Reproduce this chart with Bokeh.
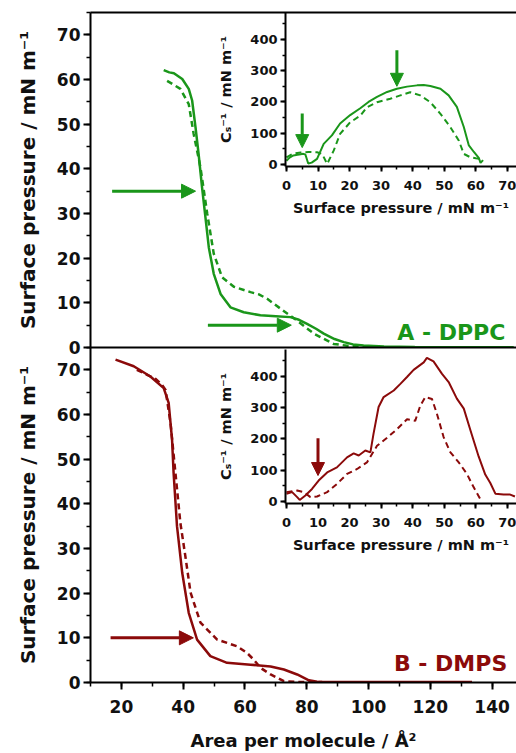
from bokeh.plotting import figure
from bokeh.layouts import row, column
from bokeh.models import (Range1d, SingleIntervalTicker, FixedTicker, LinearAxis, Arrow,
                          NormalHead, Label)
from bokeh.embed import file_html
from bokeh.resources import INLINE

# ---------------- data ----------------
# Panel A - DPPC isotherms (area per molecule / A^2, surface pressure / mN m-1)
dppc_solid_area = [33.7, 35.5, 37.0, 39.7, 41.8, 42.9, 44.0, 45.0, 46.1, 47.2, 48.3, 49.9, 52.1, 55.3,
                   59.6, 65.0, 70.0, 74.7, 77.5, 80.1, 83.0, 85.5, 89.0, 92.0, 95.0, 98.4, 105, 115,
                   125, 135, 147]
dppc_solid_pi = [62.1, 61.6, 61.4, 60.1, 57.9, 55.3, 49.3, 43.3, 35.9, 29.2, 22.4, 16.5, 12.0, 9.0,
                 7.9, 7.2, 7.0, 6.8, 6.2, 5.3, 4.2, 3.1, 1.9, 1.2, 0.7, 0.45, 0.2, 0.1, 0.05, 0.05, 0.05]
dppc_dash_area = [34.8, 37.0, 39.1, 41.8, 43.4, 45.6, 47.8, 49.9, 52.6, 56.4, 61.8, 64.5, 67.2, 71.5,
                  76.9, 82.3, 88.7, 93.1, 100, 110]
dppc_dash_pi = [59.7, 58.8, 57.9, 54.5, 47.8, 40.3, 29.9, 21.0, 15.7, 13.6, 12.4, 11.9, 10.9, 8.7,
                6.0, 3.1, 0.8, 0.4, 0.1, 0.05]

# Panel B - DMPS isotherms
dmps_solid_area = [18.1, 24.0, 29.4, 33.7, 35.3, 36.4, 36.9, 38.0, 39.7, 41.8, 44.5, 48.8, 54.2, 61.8,
                   68.3, 72.6, 76.9, 80.7, 83.4, 90, 100, 110, 120, 133.5]
dmps_solid_pi = [72.3, 70.8, 68.5, 65.9, 62.6, 54.4, 46.9, 35.0, 24.5, 15.6, 9.6, 5.9, 4.4, 4.0,
                 3.6, 2.9, 1.8, 0.5, 0.15, 0.1, 0.1, 0.1, 0.1, 0.1]
dmps_dash_area = [25.0, 28.0, 31.0, 33.0, 34.3, 35.9, 37.5, 39.1, 40.7, 42.4, 45.6, 51.0, 57.5, 60.7,
                  63.0, 65.0, 68.3, 72.6, 78, 85]
dmps_dash_pi = [70.0, 69.0, 68.0, 66.8, 65.5, 58.1, 46.9, 35.7, 28.3, 20.1, 13.4, 9.6, 8.1, 6.6,
                5.0, 3.3, 1.8, 0.3, 0.1, 0.1]

# Insets - compression modulus Cs^-1 vs surface pressure
dppc_cs_solid_pi = [0, 1.0, 2.2, 3.5, 4.5, 5.3, 6.0, 6.9, 8.0, 9.7, 11.8, 14.4, 17.0, 20.2, 23.4, 26.0,
                    28.7, 31.9, 35.0, 38.2, 41.4, 43.5, 45.6, 48.8, 51.4, 54.0, 56.2, 57.8, 59.4, 61.0,
                    61.5, 62.3]
dppc_cs_solid = [12, 22, 29, 31, 33, 34, 32, 3, 6, 18, 66, 93, 131, 158, 180, 200, 216, 232, 242, 249,
                 253, 254, 251, 242, 221, 184, 120, 61, 40, 20, 5, 14]
dppc_cs_dash_pi = [0, 2.2, 4.5, 7.0, 9.7, 11.3, 12.9, 15.0, 17.0, 20.2, 23.4, 25.5, 28.7, 32.9, 36.1,
                   39.2, 42.4, 45.6, 48.8, 51.9, 54.6, 56.2, 58.3, 60.0, 61.5]
dppc_cs_dash = [23, 35, 38, 40, 39, 34, 2, 45, 98, 135, 156, 183, 199, 210, 221, 231, 221, 199, 162,
                120, 77, 34, 23, 20, 18]

dmps_cs_solid_pi = [0, 1.8, 3.4, 4.2, 6.0, 8.1, 10.2, 12.9, 16.0, 19.2, 21.3, 22.9, 25.0, 26.6, 27.6,
                    29.2, 30.8, 34.0, 36.1, 38.2, 40.3, 43.5, 44.5, 46.6, 49.3, 51.4, 54.0, 56.2, 58.3,
                    60.9, 63.0, 64.6, 66.2, 68.8, 70.9, 72.4]
dmps_cs_solid = [25, 30, 14, 5, 19, 40, 67, 93, 109, 141, 154, 147, 163, 157, 217, 302, 334, 355, 376,
                 398, 421, 445, 459, 448, 408, 382, 329, 297, 228, 144, 86, 59, 25, 22, 22, 16]
dmps_cs_dash_pi = [0, 3.4, 5.5, 7.6, 9.7, 12.9, 16.0, 19.2, 22.4, 25.5, 28.7, 31.9, 35.0, 38.2, 40.8,
                   42.4, 44.0, 46.1, 47.7, 49.8, 51.9, 54.6, 57.2, 59.3, 61.4]
dmps_cs_dash = [30, 35, 30, 14, 16, 30, 56, 88, 104, 125, 178, 204, 231, 263, 258, 306, 334, 328, 280,
                206, 158, 125, 88, 46, 8]

# arrows: (x_start, y_start, x_end, y_end)
arrows_A_main = [(17.0, 35.0, 44.0, 35.0), (48.0, 5.0, 75.0, 5.0)]
arrows_B_main = [(16.5, 10.0, 43.3, 10.0)]
arrows_A_inset = [(5.0, 163.0, 5.0, 54.0), (35.0, 365.0, 35.0, 250.0)]
arrows_B_inset = [(10.0, 202.0, 10.0, 83.0)]

GREEN = "#1a961a"
RED = "#8b0a0a"
FONT = "DejaVu Sans"
Y_LABEL = "Surface pressure / mN m\u207b\u00b9"
X_LABEL = "Area per molecule / \u00c5\u00b2"
INSET_X_LABEL = "Surface pressure / mN m\u207b\u00b9"
INSET_Y_LABEL = "C\u209b\u207b\u00b9 / mN m\u207b\u00b9"

OVERLAP = 14  # px of panel A's lower border that panel B's transparent border overlays


def style_axis(ax, tick_size, label_size, standoff, label_standoff, major_out, minor_out):
    ax.axis_line_width = 2
    ax.major_tick_line_width = 2
    ax.minor_tick_line_width = 1.5
    ax.major_tick_in = 0
    ax.major_tick_out = major_out
    ax.minor_tick_in = 0
    ax.minor_tick_out = minor_out
    ax.major_label_text_font = FONT
    ax.major_label_text_font_style = "bold"
    ax.major_label_text_font_size = f"{tick_size}px"
    ax.major_label_text_color = "#111111"
    ax.major_label_standoff = standoff
    ax.axis_label_text_font = FONT
    ax.axis_label_text_font_style = "bold"
    ax.axis_label_text_font_size = f"{label_size}px"
    ax.axis_label_text_color = "#111111"
    ax.axis_label_standoff = label_standoff


def border_axis(p, place):
    ax = LinearAxis(ticker=FixedTicker(ticks=[]), axis_line_width=2, axis_line_color="black",
                    major_tick_line_color=None, minor_tick_line_color=None,
                    major_tick_out=0, minor_tick_out=0, major_tick_in=0, minor_tick_in=0,
                    major_label_standoff=0, axis_label_standoff=0)
    p.add_layout(ax, place)


def add_arrows(p, arrows, color, size, width):
    for xs, ys, xe, ye in arrows:
        p.add_layout(Arrow(end=NormalHead(size=size, fill_color=color, line_color=color),
                           x_start=xs, y_start=ys, x_end=xe, y_end=ye,
                           line_color=color, line_width=width))


def main_panel(height, top, bottom, show_x):
    p = figure(width=516, height=height, x_range=Range1d(10, 147.9), y_range=Range1d(0, 75),
               output_backend="svg", toolbar_location=None,
               x_axis_location="below" if show_x else None,
               min_border_left=90, min_border_right=0, min_border_top=top, min_border_bottom=bottom)
    p.frame_align = False
    p.grid.visible = False
    p.outline_line_color = None
    p.background_fill_color = "white"
    p.yaxis.ticker = SingleIntervalTicker(interval=10, num_minor_ticks=2)
    p.yaxis.axis_label = Y_LABEL
    style_axis(p.yaxis[0], 17, 20, 3, 14, 7, 4)
    if show_x:
        p.border_fill_alpha = 0
        p.xaxis.ticker = SingleIntervalTicker(interval=20, num_minor_ticks=2)
        p.xaxis.axis_label = X_LABEL
        style_axis(p.xaxis[0], 17, 18, 10, 14, 7, 4)
        border_axis(p, "above")
    else:
        p.border_fill_color = "white"
        border_axis(p, "above")
        border_axis(p, "below")
    return p


def inset_panel(top, margin_left):
    p = figure(width=301, height=210 + top, x_range=Range1d(-0.3, 72.9), y_range=Range1d(-6.4, 486),
               output_backend="svg", toolbar_location=None,
               min_border_left=70, min_border_right=0, min_border_top=top, min_border_bottom=56)
    p.frame_align = False
    p.grid.visible = False
    p.outline_line_color = None
    p.background_fill_alpha = 0
    p.border_fill_alpha = 0
    p.xaxis.ticker = SingleIntervalTicker(interval=10, num_minor_ticks=2)
    p.yaxis.ticker = SingleIntervalTicker(interval=100, num_minor_ticks=2)
    p.xaxis.axis_label = INSET_X_LABEL
    p.yaxis.axis_label = INSET_Y_LABEL
    style_axis(p.xaxis[0], 13, 14.5, 9, 7, 5, 3)
    style_axis(p.yaxis[0], 13, 14.5, 3, 13, 5, 3)
    p.margin = (0, 0, 0, margin_left)
    return p


# ---------------- panel A ----------------
pA = main_panel(347 + OVERLAP, 12, OVERLAP, False)
pA.line(dppc_dash_area, dppc_dash_pi, line_color=GREEN, line_width=2.5, line_dash="6 4")
pA.line(dppc_solid_area, dppc_solid_pi, line_color=GREEN, line_width=2.5)
add_arrows(pA, arrows_A_main, GREEN, 14, 3)
pA.add_layout(Label(x=144.3, y=3.4, text="A - DPPC", text_align="right", text_baseline="alphabetic",
                    text_font=FONT, text_font_style="bold", text_font_size="22px", text_color=GREEN))

iA = inset_panel(12, -301)
iA.line(dppc_cs_dash_pi, dppc_cs_dash, line_color=GREEN, line_width=2, line_dash="6 4")
iA.line(dppc_cs_solid_pi, dppc_cs_solid, line_color=GREEN, line_width=2)
add_arrows(iA, arrows_A_inset, GREEN, 13, 3)

# ---------------- panel B ----------------
pB = main_panel(406, 0, 70, True)
pB.line(dmps_dash_area, dmps_dash_pi, line_color=RED, line_width=2.5, line_dash="6 4")
pB.line(dmps_solid_area, dmps_solid_pi, line_color=RED, line_width=2.5)
add_arrows(pB, arrows_B_main, RED, 14, 3)
pB.add_layout(Label(x=144.9, y=4.25, text="B - DMPS", text_align="right", text_baseline="alphabetic",
                    text_font=FONT, text_font_style="bold", text_font_size="22px", text_color=RED))

iB = inset_panel(2, -301)
iB.line(dmps_cs_dash_pi, dmps_cs_dash, line_color=RED, line_width=2, line_dash="6 4")
iB.line(dmps_cs_solid_pi, dmps_cs_solid, line_color=RED, line_width=2)
add_arrows(iB, arrows_B_inset, RED, 13, 3)

rowA = row(pA, iA)
rowB = row(pB, iB)
rowB.margin = (-OVERLAP, 0, 0, 0)
layout = column(rowA, rowB)

open("out.html", "w").write(file_html(layout, INLINE))
